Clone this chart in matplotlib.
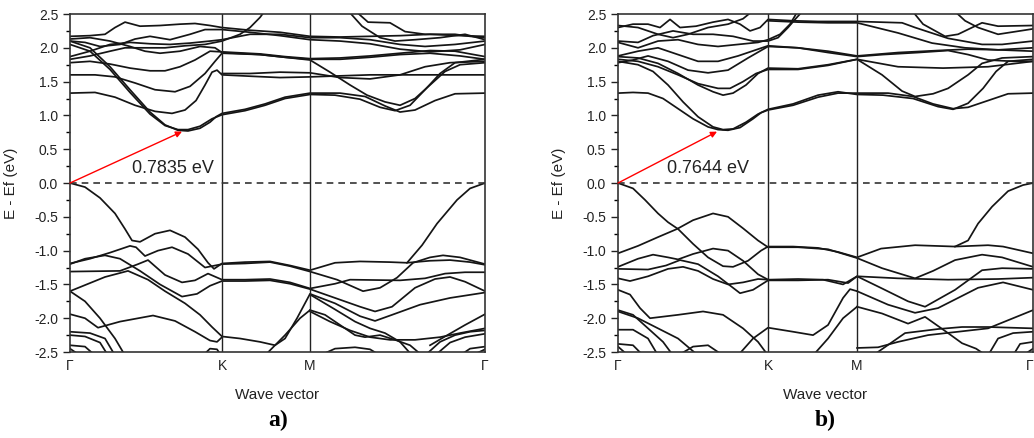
import matplotlib
matplotlib.use("Agg")
import matplotlib.pyplot as plt
from matplotlib.ticker import MultipleLocator

plt.rcParams['font.family'] = ['Liberation Sans', 'DejaVu Sans']

# path distance along Γ-K-M-Γ (same arbitrary units for both panels)
path_left = [0, 152, 240, 415]
path_right = [0, 150, 239, 415]
sym_labels = ['Γ', 'K', 'M', 'Γ']

gap_left = 0.7835
gap_right = 0.7644
cbm_left = (112, 0.76)
cbm_right = (99, 0.76)

# ---- panel a) bands, (k, E) pairs
left_cb = [
    [(0, 2.10), (20, 2.0), (40, 1.72), (60, 1.38), (80, 1.05), (95, 0.86), (108, 0.78), (118, 0.77),
     (130, 0.81), (140, 0.9), (146, 0.98), (152, 1.03), (175, 1.09), (195, 1.17), (215, 1.27), (240, 1.33),
     (270, 1.33), (295, 1.28), (315, 1.14), (330, 1.05), (345, 1.08), (365, 1.22), (385, 1.32), (415, 1.33)],
    [(0, 2.05), (20, 1.95), (40, 1.68), (60, 1.34), (80, 1.02), (95, 0.85), (108, 0.79), (118, 0.79),
     (130, 0.84), (142, 0.95), (152, 1.01), (175, 1.07), (195, 1.15), (215, 1.25), (240, 1.31), (265, 1.3),
     (290, 1.24), (310, 1.12), (325, 1.07), (340, 1.15), (355, 1.38), (370, 1.62), (385, 1.78), (415, 1.83)],
    [(0, 1.33), (25, 1.34), (45, 1.27), (65, 1.15), (85, 1.06), (102, 1.03), (115, 1.08), (126, 1.22),
     (135, 1.45), (142, 1.64), (147, 1.67), (152, 1.6), (180, 1.58), (210, 1.56), (240, 1.57), (300, 1.6),
     (360, 1.6), (415, 1.6)],
    [(0, 1.6), (25, 1.6), (45, 1.57), (65, 1.48), (85, 1.38), (105, 1.35), (120, 1.43), (135, 1.62),
     (145, 1.8), (152, 1.92), (190, 1.9), (215, 1.86), (240, 1.82), (260, 1.64), (280, 1.45), (297, 1.3),
     (315, 1.2), (330, 1.15), (345, 1.25), (360, 1.45), (375, 1.65), (390, 1.75), (415, 1.78)],
    [(0, 1.78), (20, 1.8), (40, 1.76), (60, 1.7), (80, 1.66), (95, 1.66), (110, 1.72), (125, 1.82),
     (140, 1.95), (152, 1.94), (190, 1.91), (215, 1.87), (240, 1.84), (270, 1.85), (300, 1.88), (330, 1.92),
     (360, 1.96), (385, 1.95), (415, 1.87)],
    [(0, 1.83), (20, 1.88), (40, 1.95), (55, 2.0), (75, 2.0), (95, 2.0), (115, 2.03), (135, 2.05),
     (152, 2.1), (170, 2.2), (180, 2.3), (190, 2.45), (195, 2.55)],
    [(0, 1.87), (20, 1.95), (40, 2.05), (60, 2.08), (80, 2.06), (100, 2.05), (120, 2.07), (140, 2.1),
     (152, 2.12), (180, 2.2), (210, 2.2), (240, 2.15), (270, 2.15), (300, 2.12), (330, 2.05), (355, 2.02),
     (385, 2.05), (415, 2.1)],
    [(0, 2.1), (15, 2.08), (30, 2.02), (50, 2.05), (65, 2.13), (80, 2.17), (100, 2.12), (120, 2.2),
     (135, 2.27), (152, 2.27), (180, 2.23), (210, 2.18), (240, 2.12), (270, 2.1), (300, 2.06), (330, 1.98),
     (360, 1.94), (390, 1.97), (415, 2.05)],
    [(0, 2.13), (20, 2.15), (40, 2.1), (60, 2.02), (75, 1.95), (90, 1.92), (110, 1.95), (130, 2.02),
     (145, 2.0), (152, 1.93), (190, 1.9), (215, 1.86), (240, 1.83), (270, 1.83), (300, 1.86), (330, 1.9),
     (360, 1.92), (390, 1.88), (415, 1.83)],
    [(0, 2.17), (20, 2.18), (35, 2.2), (45, 2.3), (55, 2.38), (70, 2.32), (90, 2.33), (110, 2.35),
     (125, 2.36), (140, 2.33), (152, 2.3), (180, 2.26), (210, 2.23), (240, 2.17), (270, 2.16), (300, 2.17),
     (330, 2.18), (360, 2.2), (390, 2.18), (415, 2.17)],
    [(285, 2.55), (298, 2.38), (320, 2.37), (335, 2.24), (355, 2.2), (385, 2.2), (400, 2.17), (415, 2.15)],
    [(278, 2.55), (292, 2.32), (310, 2.15), (325, 2.1), (345, 2.12), (370, 2.15), (395, 2.2), (415, 2.12)],
    [(152, 1.62), (180, 1.62), (210, 1.64), (240, 1.63), (270, 1.56), (300, 1.54), (330, 1.6), (355, 1.72),
     (380, 1.78), (415, 1.8)],
]

left_vb = [
    [(0, 0.0), (15, -0.06), (30, -0.22), (45, -0.45), (55, -0.68), (62, -0.85), (70, -0.87), (85, -0.75),
     (100, -0.7), (115, -0.8), (128, -0.98), (138, -1.18), (144, -1.27), (152, -1.19), (175, -1.17),
     (200, -1.16), (220, -1.22), (240, -1.29), (265, -1.18), (290, -1.16), (320, -1.17), (337, -1.18),
     (352, -0.92), (367, -0.6), (387, -0.25), (400, -0.08), (415, 0.0)],
    [(0, -1.19), (20, -1.12), (40, -1.03), (60, -0.93), (66, -0.95), (75, -1.08), (88, -1.0), (102, -0.95),
     (118, -1.05), (135, -1.25), (152, -1.2), (175, -1.19), (200, -1.17), (220, -1.23), (240, -1.31),
     (267, -1.43), (293, -1.6), (310, -1.55), (327, -1.4), (343, -1.18), (360, -1.1), (373, -1.07),
     (390, -1.1), (415, -1.2)],
    [(337, -1.18), (360, -1.15), (380, -1.14), (400, -1.17), (415, -1.21)],
    [(0, -1.31), (50, -1.3), (68, -1.2), (78, -1.14), (95, -1.36), (112, -1.47), (125, -1.44), (138, -1.34),
     (152, -1.43), (175, -1.43), (200, -1.42), (220, -1.47), (240, -1.56), (265, -1.49), (280, -1.43),
     (330, -1.44), (355, -1.41), (375, -1.34), (395, -1.32), (415, -1.32)],
    [(0, -1.2), (15, -1.12), (35, -1.07), (50, -1.12), (70, -1.3), (90, -1.5), (112, -1.68), (127, -1.64),
     (140, -1.52), (152, -1.45), (175, -1.45), (200, -1.44), (220, -1.49), (240, -1.57), (265, -1.7),
     (290, -1.83), (305, -1.9), (322, -1.83), (345, -1.55), (365, -1.42), (380, -1.39), (395, -1.46),
     (415, -1.6)],
    [(0, -1.6), (35, -1.39), (58, -1.3), (78, -1.43), (95, -1.6), (115, -1.78), (130, -1.95), (142, -2.13),
     (152, -2.27), (170, -2.3), (190, -2.35), (205, -2.4), (215, -2.3), (227, -2.0), (240, -1.64),
     (265, -1.78), (290, -1.97), (305, -2.04), (322, -1.95), (350, -1.8), (380, -1.7), (415, -1.62)],
    [(0, -1.94), (15, -2.0), (28, -2.14), (50, -2.05), (83, -1.96), (105, -2.04), (125, -2.2), (140, -2.33),
     (147, -2.35), (152, -2.28)],
    [(0, -1.6), (15, -1.75), (30, -2.0), (45, -2.3), (55, -2.55)],
    [(0, -2.2), (20, -2.22), (35, -2.3), (45, -2.55)],
    [(0, -2.25), (15, -2.27), (30, -2.36), (38, -2.55)],
    [(0, -2.4), (15, -2.42), (25, -2.55)],
    [(0, -2.45), (10, -2.55)],
    [(133, -2.55), (140, -2.45), (147, -2.46), (151, -2.55)],
    [(195, -2.55), (215, -2.25), (230, -2.0), (240, -1.88)],
    [(240, -1.88), (255, -1.95), (270, -2.1), (285, -2.25), (295, -2.28), (310, -2.25), (325, -2.32),
     (340, -2.4), (352, -2.55)],
    [(240, -1.9), (260, -2.05), (280, -2.18), (300, -2.28), (320, -2.32), (345, -2.32), (370, -2.28),
     (390, -2.22), (415, -2.15)],
    [(240, -1.65), (265, -1.87), (285, -2.05), (300, -2.15), (315, -2.22), (330, -2.35), (342, -2.55)],
    [(250, -2.55), (265, -2.45), (285, -2.43), (300, -2.46), (310, -2.55)],
    [(355, -2.55), (370, -2.35), (385, -2.25), (400, -2.2), (415, -2.18)],
    [(365, -2.55), (380, -2.36), (395, -2.28), (415, -2.23)],
    [(390, -2.55), (400, -2.45), (415, -2.42)],
    [(402, -2.55), (415, -2.46)],
    [(360, -2.4), (375, -2.27), (395, -2.1), (415, -1.94)],
]

# ---- panel b) bands
right_cb = [
    [(0, 1.33), (15, 1.34), (30, 1.33), (45, 1.25), (60, 1.1), (75, 0.95), (90, 0.83), (100, 0.79),
     (110, 0.78), (122, 0.82), (135, 0.95), (143, 1.04), (150, 1.08), (175, 1.15), (200, 1.27), (220, 1.33),
     (239, 1.33), (270, 1.33), (295, 1.28), (315, 1.17), (335, 1.1), (350, 1.12), (370, 1.22), (390, 1.32),
     (415, 1.33)],
    [(0, 1.8), (20, 1.75), (35, 1.65), (50, 1.45), (65, 1.2), (80, 0.98), (95, 0.83), (105, 0.79),
     (115, 0.8), (128, 0.9), (140, 1.02), (150, 1.09), (175, 1.17), (200, 1.3), (220, 1.35), (239, 1.31),
     (265, 1.3), (295, 1.25), (320, 1.13), (335, 1.09), (350, 1.18), (365, 1.4), (378, 1.65), (390, 1.8),
     (415, 1.83)],
    [(0, 1.87), (20, 1.85), (40, 1.77), (60, 1.62), (80, 1.45), (95, 1.35), (105, 1.3), (115, 1.33),
     (128, 1.45), (140, 1.62), (150, 1.7), (180, 1.69), (210, 1.75), (239, 1.83), (264, 1.6), (284, 1.36),
     (297, 1.28), (315, 1.32), (330, 1.4), (350, 1.6), (364, 1.77), (384, 1.85), (415, 1.87)],
    [(0, 1.83), (20, 1.8), (40, 1.72), (60, 1.6), (80, 1.47), (100, 1.4), (112, 1.4), (125, 1.5),
     (138, 1.62), (150, 1.68), (180, 1.68), (210, 1.74), (239, 1.83), (280, 1.72), (325, 1.7), (370, 1.72),
     (415, 1.8)],
    [(0, 2.3), (15, 2.35), (30, 2.35), (42, 2.3), (52, 2.42), (62, 2.3), (78, 2.32), (95, 2.38),
     (110, 2.42), (122, 2.35), (132, 2.25), (142, 2.3), (150, 2.42), (175, 2.4), (200, 2.39), (239, 2.39),
     (284, 2.37), (297, 2.3), (330, 2.14), (364, 2.05), (384, 2.05), (415, 2.1)],
    [(150, 2.4), (180, 2.38), (210, 2.37), (239, 2.37), (280, 2.22), (314, 2.07), (347, 2.0), (380, 1.97),
     (415, 2.0)],
    [(0, 2.33), (20, 2.3), (40, 2.2), (55, 2.15), (70, 2.2), (90, 2.3), (110, 2.35), (125, 2.43),
     (135, 2.55)],
    [(0, 2.1), (20, 2.08), (35, 2.18), (55, 2.25), (75, 2.2), (95, 2.2), (115, 2.17), (135, 2.1),
     (150, 2.1), (160, 2.15), (170, 2.3), (177, 2.42), (185, 2.55)],
    [(0, 2.08), (20, 2.0), (40, 2.1), (60, 2.12), (80, 2.05), (100, 2.02), (120, 2.05), (140, 2.08),
     (150, 2.12), (162, 2.2), (172, 2.35), (180, 2.55)],
    [(0, 1.88), (20, 1.95), (40, 2.0), (60, 1.9), (80, 1.8), (100, 1.8), (120, 1.88), (140, 1.98),
     (150, 2.03), (180, 2.0), (210, 1.95), (239, 1.88), (280, 1.93), (320, 1.96), (350, 1.98), (380, 1.97),
     (415, 1.95)],
    [(0, 1.78), (15, 1.82), (30, 1.88), (50, 1.8), (70, 1.67), (90, 1.63), (110, 1.67), (130, 1.85),
     (150, 2.02), (180, 2.0), (210, 1.93), (239, 1.87), (265, 1.9), (300, 1.93), (330, 1.96), (350, 1.9),
     (370, 1.82), (395, 1.8), (415, 1.8)],
    [(294, 2.55), (305, 2.35), (327, 2.17), (340, 2.2), (354, 2.3), (364, 2.37), (380, 2.32), (415, 2.33)],
    [(336, 2.55), (347, 2.4), (360, 2.3), (380, 2.2), (415, 2.28)],
]

right_vb = [
    [(0, 0.0), (15, -0.08), (27, -0.25), (40, -0.45), (50, -0.58), (60, -0.68), (75, -0.9), (90, -1.1),
     (105, -1.23), (115, -1.24), (130, -1.15), (143, -1.0), (150, -0.94), (175, -0.94), (200, -0.96),
     (220, -1.02), (239, -1.1), (263, -0.97), (297, -0.92), (337, -0.94), (350, -0.85), (360, -0.6),
     (374, -0.35), (390, -0.12), (405, -0.03), (415, 0.0)],
    [(337, -0.94), (370, -0.92), (385, -0.94), (415, -1.04)],
    [(0, -1.04), (20, -0.93), (40, -0.8), (59, -0.68), (75, -0.55), (95, -0.45), (110, -0.5), (125, -0.67),
     (140, -0.85), (150, -0.95), (180, -0.95), (210, -0.98), (239, -1.11), (264, -1.26), (297, -1.41),
     (315, -1.3), (337, -1.14), (364, -1.06), (384, -1.1), (415, -1.24)],
    [(0, -1.24), (20, -1.12), (35, -1.06), (50, -1.1), (60, -1.13), (75, -1.05), (95, -0.97), (110, -1.0),
     (125, -1.15), (140, -1.35), (150, -1.43), (180, -1.42), (205, -1.43), (225, -1.5), (239, -1.38),
     (280, -1.41), (330, -1.43), (380, -1.42), (415, -1.4)],
    [(0, -1.27), (30, -1.28), (48, -1.22), (62, -1.14), (80, -1.2), (100, -1.38), (115, -1.55),
     (122, -1.63), (135, -1.58), (150, -1.44), (180, -1.44), (210, -1.43), (230, -1.48), (239, -1.38),
     (264, -1.56), (290, -1.75), (307, -1.83), (337, -1.58), (364, -1.29), (384, -1.26), (415, -1.27)],
    [(0, -1.41), (12, -1.45), (30, -1.38), (50, -1.27), (65, -1.24), (80, -1.3), (95, -1.42), (110, -1.5),
     (125, -1.47), (140, -1.42), (150, -1.43)],
    [(239, -1.6), (270, -1.8), (297, -1.92), (320, -1.85), (340, -1.7), (360, -1.55), (385, -1.47),
     (415, -1.58)],
    [(239, -1.83), (264, -1.93), (290, -2.08), (307, -1.98), (330, -2.22), (344, -2.37), (358, -2.45),
     (368, -2.55)],
    [(239, -2.44), (260, -2.43), (280, -2.35), (310, -2.25), (340, -2.2), (370, -2.15), (395, -2.0),
     (415, -1.88)],
    [(255, -2.55), (287, -2.22), (320, -2.16), (344, -2.13), (370, -2.13), (415, -2.15)],
    [(370, -2.55), (380, -2.3), (395, -2.22), (415, -2.2)],
    [(395, -2.55), (402, -2.38), (415, -2.35)],
    [(405, -2.55), (415, -2.45)],
    [(0, -1.58), (12, -1.65), (22, -1.85), (32, -2.0), (60, -1.95), (85, -1.9), (105, -1.95), (125, -2.15),
     (140, -2.35), (150, -2.55)],
    [(0, -1.88), (15, -1.95), (30, -2.15), (45, -2.35), (55, -2.55)],
    [(0, -1.9), (20, -2.0), (40, -2.15), (60, -2.3), (80, -2.55)],
    [(0, -2.17), (15, -2.17), (30, -2.3), (40, -2.55)],
    [(0, -2.38), (15, -2.4), (25, -2.55)],
    [(0, -2.42), (10, -2.55)],
    [(60, -2.55), (75, -2.42), (90, -2.4), (105, -2.55)],
    [(120, -2.55), (135, -2.3), (150, -2.14), (175, -2.2), (195, -2.25), (210, -2.1), (225, -1.7),
     (232, -1.57), (239, -1.6)],
    [(195, -2.55), (210, -2.3), (225, -2.0), (239, -1.83)],
]


def draw_panel(ax, path, cb, vb, gap, cbm):
    for band in cb + vb:
        k = [p[0] for p in band]
        e = [p[1] for p in band]
        ax.plot(k, e, color='#151515', lw=1.25, solid_joinstyle='round')
    for x in path[1:-1]:
        ax.axvline(x, color='#222222', lw=1.0)
    ax.axhline(0, color='#333333', lw=1.2, ls=(0, (4, 3)))
    ax.annotate('', xy=cbm, xytext=(0, 0),
                arrowprops=dict(arrowstyle='-|>', color='red', lw=1.0,
                                mutation_scale=9, shrinkA=0, shrinkB=0))
    ax.text(cbm[0] - 50, 0.22, f'{gap:.4f} eV', fontsize=13, color='#222222',
            ha='left', va='center')
    ax.set_xlim(path[0], path[-1])
    ax.set_ylim(-2.5, 2.5)
    ax.set_xticks(path)
    ax.set_xticklabels(sym_labels)
    ax.tick_params(axis='x', length=0, pad=5, labelsize=10, colors='#222222')
    ax.yaxis.set_major_locator(MultipleLocator(0.5))
    ax.yaxis.set_minor_locator(MultipleLocator(0.25))
    ax.tick_params(axis='y', which='major', direction='out', length=5, width=1,
                   labelsize=10, colors='#222222')
    ax.tick_params(axis='y', which='minor', direction='out', length=3, width=1)
    ax.yaxis.set_major_formatter(plt.FuncFormatter(lambda v, p: f'{v:.1f}'))
    for s in ax.spines.values():
        s.set_linewidth(1.2)
        s.set_color('#333333')
    ax.set_ylabel('E - Ef (eV)', fontsize=11, color='#222222')
    ax.yaxis.set_label_coords(-0.125, 0.5)
    ax.set_xlabel('Wave vector', fontsize=11, color='#222222')
    ax.xaxis.set_label_coords(0.5, -0.105)


fig = plt.figure(figsize=(10.34, 4.38), dpi=100)
ax1 = fig.add_axes([0.0677, 0.1963, 0.4014, 0.7717])
ax2 = fig.add_axes([0.5977, 0.1963, 0.4014, 0.7717])

draw_panel(ax1, path_left, left_cb, left_vb, gap_left, cbm_left)
draw_panel(ax2, path_right, right_cb, right_vb, gap_right, cbm_right)

# keep the last Γ of panel b) inside the picture
ax2.get_xticklabels()[-1].set_horizontalalignment('right')

fig.text(0.269, 0.041, 'a)', fontsize=17, fontweight='bold', family='Liberation Serif',
         ha='center', va='center')
fig.text(0.798, 0.041, 'b)', fontsize=17, fontweight='bold', family='Liberation Serif',
         ha='center', va='center')

fig.savefig('out.png', dpi=100)
